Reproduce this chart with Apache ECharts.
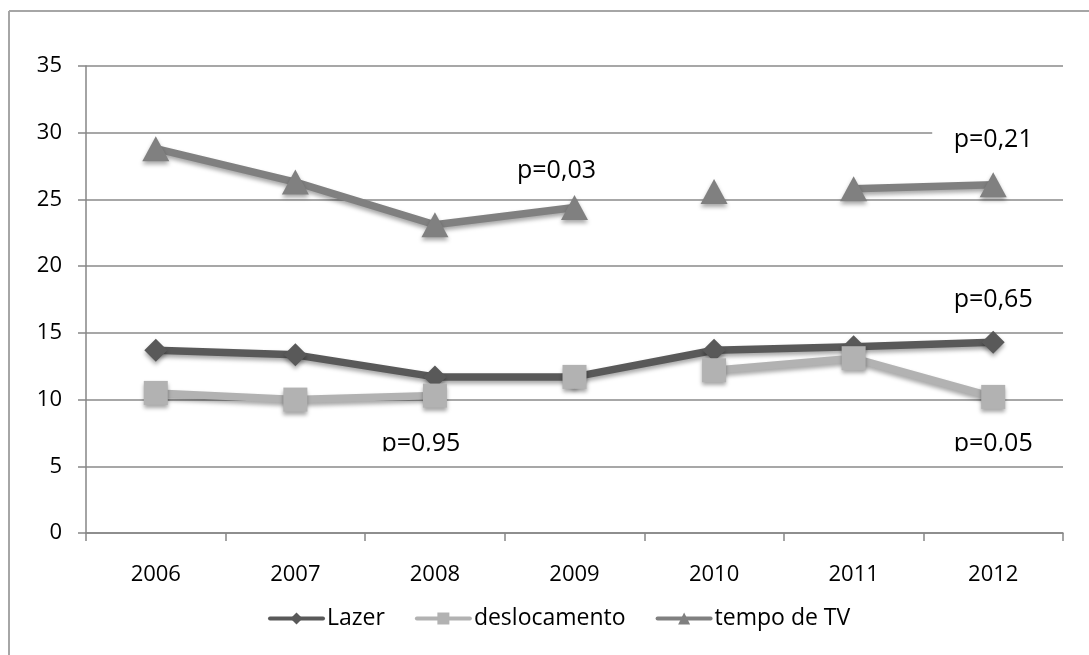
<!DOCTYPE html>
<html>
<head>
<meta charset="utf-8">
<script src="https://cdn.jsdelivr.net/npm/echarts@6/dist/echarts.min.js"></script>
<style>
  html, body { margin: 0; padding: 0; background: #ffffff; }
  #chart { width: 1089px; height: 655px; }
</style>
</head>
<body>
<div id="chart"></div>
<script>
// Years on the category axis
const years = ['2006', '2007', '2008', '2009', '2010', '2011', '2012'];

// Series values per year
const lazer = [13.7, 13.35, 11.7, 11.7, 13.7, 13.95, 14.3];
const deslocamento = [10.5, 10.0, 10.3, 11.7, 12.2, 13.1, 10.2];
const tempoTV = [28.8, 26.3, 23.1, 24.4, 25.6, 25.8, 26.1];

// Connected stretches of each series: [first index, last index]
const lazerRuns = [[0, 6]];
const deslocamentoRuns = [[0, 2], [3, 3], [4, 6]];
const tempoTVRuns = [[0, 3], [4, 4], [5, 6]];

// Value axis range
const yMin = 0;
const yMax = 35;
const yStep = 5;

// p-value notes, anchored to a year and a value on the axes
const pTexts = ['p=0,03', 'p=0,21', 'p=0,65', 'p=0,95', 'p=0,05'];
const pYears = ['2009', '2012', '2012', '2008', '2012'];
const pValues = [27.15, 29.5, 17.5, 6.65, 6.65];

// Drawing settings for the notes (pixel nudges, clipping, white box)
const pLayout = [
  { dx: -18 },
  { dx: 0, box: { left: 61, right: 80, up: 22, down: 18 } },
  { dx: 0 },
  { dx: -14, clipBottom: 7 },
  { dx: 0, clipBottom: 7 }
];

const FONT = '"Open Sans", "Noto Sans", sans-serif';
const shadow = { shadowColor: 'rgba(0,0,0,0.35)', shadowBlur: 4, shadowOffsetY: 3 };

function runData(values, run) {
  return values.map((v, i) => (i >= run[0] && i <= run[1] ? v : null));
}

function makeSeries(name, values, runs, color, symbol, symbolSize) {
  return runs.map(run => ({
    name: name,
    type: 'line',
    data: runData(values, run),
    connectNulls: false,
    symbol: symbol,
    symbolSize: symbolSize,
    showSymbol: true,
    showAllSymbol: true,
    lineStyle: Object.assign({ color: color, width: 7.5, cap: 'round', join: 'round' }, shadow),
    itemStyle: Object.assign({ color: color, borderWidth: 0 }, shadow),
    emphasis: { disabled: true },
    animation: false
  }));
}

const chart = echarts.init(document.getElementById('chart'), null, { renderer: 'canvas' });

const series = [].concat(
  makeSeries('Lazer', lazer, lazerRuns, '#595959', 'diamond', 23),
  makeSeries('deslocamento', deslocamento, deslocamentoRuns, '#b2b2b2', 'rect', 24),
  makeSeries('tempo de TV', tempoTV, tempoTVRuns, '#808080', 'triangle', [27, 25])
);

chart.setOption({
  backgroundColor: '#ffffff',
  animation: false,
  grid: { left: 86, right: 26, top: 66, bottom: 122, containLabel: false },
  xAxis: {
    type: 'category',
    data: years,
    boundaryGap: true,
    axisLine: { show: true, lineStyle: { color: '#868686', width: 1.5 } },
    axisTick: { show: true, length: 8, alignWithLabel: false, lineStyle: { color: '#868686', width: 1.5 } },
    axisLabel: { color: '#000000', fontFamily: FONT, fontSize: 22, margin: 31 },
    splitLine: { show: false }
  },
  yAxis: {
    type: 'value',
    min: yMin,
    max: yMax,
    interval: yStep,
    axisLine: { show: true, lineStyle: { color: '#868686', width: 1.5 } },
    axisTick: { show: true, length: 8, lineStyle: { color: '#868686', width: 1.5 } },
    axisLabel: { color: '#000000', fontFamily: FONT, fontSize: 22, margin: 24 },
    splitLine: { show: true, lineStyle: { color: '#8a8a8a', width: 1.5 } }
  },
  legend: {
    show: true,
    left: 268,
    top: 607,
    padding: 0,
    itemWidth: 53,
    itemHeight: 15,
    itemGap: 30,
    textStyle: { color: '#000000', fontFamily: FONT, fontSize: 23, padding: [0, 0, 0, -1] },
    lineStyle: { width: 4 },
    data: ['Lazer', 'deslocamento', 'tempo de TV'],
    selectedMode: false
  },
  series: series
});

// Frame lines and p-value notes
function drawNotes() {
  const g = [];
  g.push({
    type: 'line', z: 100, silent: true,
    shape: { x1: 9, y1: 11, x2: 1089, y2: 11 },
    style: { stroke: '#a6a6a6', lineWidth: 2 }
  });
  g.push({
    type: 'line', z: 100, silent: true,
    shape: { x1: 9, y1: 11, x2: 9, y2: 655 },
    style: { stroke: '#a6a6a6', lineWidth: 2 }
  });
  pTexts.forEach((t, i) => {
    const pt = chart.convertToPixel({ xAxisIndex: 0, yAxisIndex: 0 }, [pYears[i], pValues[i]]);
    const lay = pLayout[i];
    const x = pt[0] + lay.dx;
    const y = pt[1];
    if (lay.box) {
      g.push({
        type: 'rect', z: 100, silent: true,
        shape: { x: x - lay.box.left, y: y - lay.box.up, width: lay.box.left + lay.box.right, height: lay.box.up + lay.box.down },
        style: { fill: '#ffffff' }
      });
    }
    g.push({
      type: 'text', z: 101, silent: true,
      x: x, y: y,
      style: {
        text: t, fill: '#000000',
        font: '25px ' + FONT,
        textAlign: 'center', textVerticalAlign: 'middle'
      }
    });
    if (lay.clipBottom) {
      g.push({
        type: 'rect', z: 102, silent: true,
        shape: { x: x - 50, y: y + lay.clipBottom, width: 100, height: 10 },
        style: { fill: '#ffffff' }
      });
    }
  });
  chart.setOption({ graphic: g });
}
drawNotes();
</script>
</body>
</html>
